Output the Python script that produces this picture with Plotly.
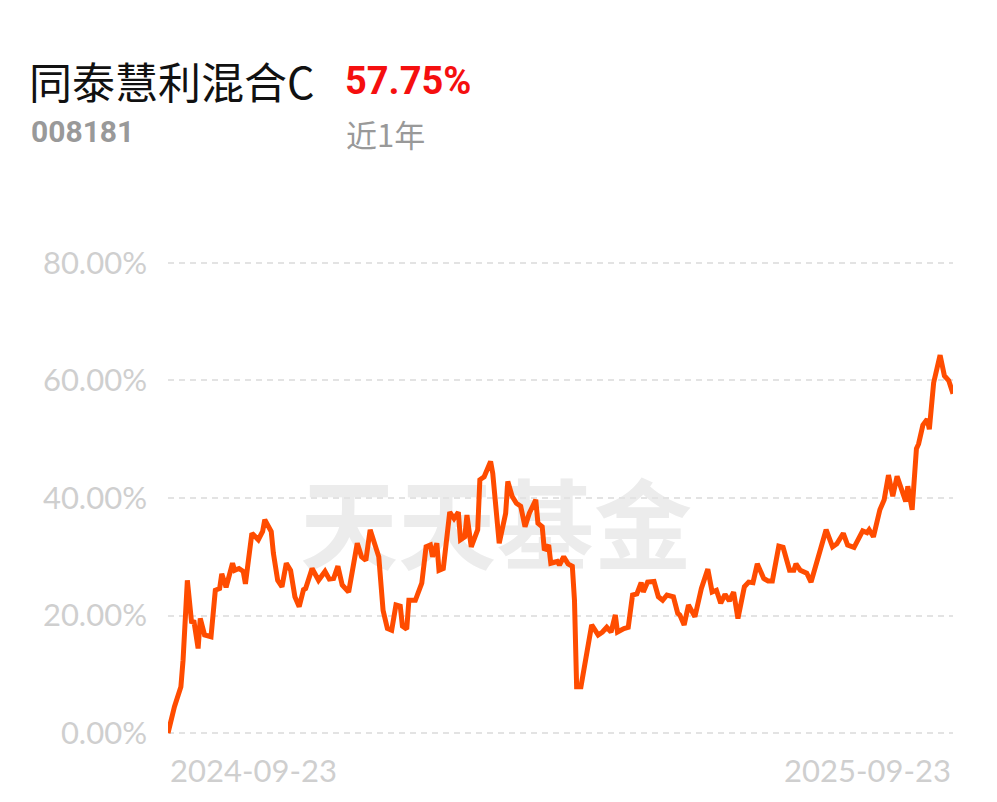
import plotly.graph_objects as go
import pandas as pd

# ---- data ----
fund_name = "同泰慧利混合C"
fund_code = "008181"
period_label = "近1年"
period_return = "57.75%"
start_date = "2024-09-23"
x_tick_labels = ["2024-09-23", "2025-09-23"]
y_tick_values = [0, 20, 40, 60, 80]
y_tick_labels = ["0.00%", "20.00%", "40.00%", "60.00%", "80.00%"]

day_offsets = [
    0, 2, 3, 6, 7, 9, 11, 12, 14, 15, 17, 20, 22, 24, 25, 27, 30, 31, 33, 35,
    36, 39, 42, 44, 45, 48, 49, 51, 53, 55, 57, 59, 61, 63, 64, 67, 70, 73, 75, 77,
    79, 81, 84, 88, 90, 92, 94, 98, 100, 102, 104, 106, 108, 109, 111, 112, 115, 118, 120, 122,
    123, 125, 126, 128, 131, 133, 135, 136, 138, 139, 141, 144, 145, 147, 150, 151, 153, 154, 157, 158,
    160, 162, 164, 166, 168, 171, 172, 174, 175, 177, 178, 181, 182, 184, 186, 188, 189, 190, 192, 195,
    197, 200, 202, 204, 206, 208, 209, 212, 214, 216, 218, 220, 221, 223, 226, 228, 230, 232, 235, 237,
    238, 240, 242, 245, 248, 251, 253, 255, 257, 259, 261, 263, 265, 268, 270, 272, 274, 277, 279, 281,
    284, 286, 289, 291, 292, 294, 297, 299, 301, 304, 306, 309, 311, 314, 316, 319, 323, 325, 326, 328,
    331, 333, 335, 337, 339, 343, 344, 346, 348, 349, 351, 353, 354, 356, 357, 359, 361, 363, 365,
]
returns_pct = [
    0.0, 3.4, 4.5, 7.9, 12.4, 26.0, 18.7, 19.2, 14.4, 19.5, 16.7, 16.4, 24.3, 24.6, 27.1, 24.8, 28.9, 27.7, 28.0, 27.5,
    25.4, 34.0, 32.9, 34.3, 36.3, 34.3, 30.6, 26.0, 24.9, 28.9, 27.7, 23.2, 21.5, 24.4, 24.6, 28.0, 26.0, 27.5, 26.2, 26.3,
    28.4, 25.2, 24.0, 32.3, 30.0, 29.4, 34.6, 30.0, 20.9, 17.8, 17.5, 21.8, 21.6, 18.2, 17.7, 22.6, 22.6, 25.5, 31.7, 32.0,
    30.0, 32.3, 27.7, 28.0, 37.6, 36.5, 37.6, 32.9, 33.4, 37.1, 31.7, 34.6, 43.1, 43.6, 46.2, 44.2, 35.1, 32.3, 37.4, 42.8,
    40.3, 39.1, 38.6, 35.1, 37.4, 39.7, 35.7, 35.1, 31.1, 32.0, 28.9, 29.2, 28.6, 30.0, 28.8, 28.4, 22.6, 7.9, 7.9, 13.6,
    18.4, 16.7, 17.2, 18.0, 17.2, 20.1, 17.2, 17.8, 18.0, 23.5, 23.7, 25.6, 24.0, 25.7, 25.8, 23.2, 22.6, 23.5, 23.2, 20.4,
    20.1, 18.4, 21.8, 19.8, 24.6, 27.9, 24.0, 24.3, 22.1, 23.6, 22.5, 24.0, 19.5, 24.9, 25.7, 25.6, 28.8, 26.3, 25.9, 25.9,
    31.8, 31.6, 27.7, 27.7, 28.8, 27.7, 27.2, 25.7, 28.3, 31.7, 34.6, 31.7, 32.2, 34.0, 32.0, 31.6, 34.4, 34.1, 34.6, 33.4,
    38.0, 39.7, 43.9, 40.3, 43.7, 39.4, 42.0, 38.0, 48.4, 49.2, 52.4, 53.4, 51.7, 59.6, 61.5, 64.3, 60.8, 60.0, 57.75,
]

dates = pd.Timestamp(start_date) + pd.to_timedelta(day_offsets, unit="D")

# ---- layout geometry (pixels) ----
W, H = 997, 802
ML, MR, MT, MB = 168, 44, 257, 63
PW, PH = W - ML - MR, H - MT - MB


def px_x(px):
    return (px - ML) / PW


def px_y(py):
    return (H - MB - py) / PH


LINE_COLOR = "#ff4c00"
AXIS_TEXT = "#cfcfcf"
AXIS_FONT = "Lato, Roboto, sans-serif"

fig = go.Figure()
fig.add_trace(go.Scatter(
    x=dates, y=returns_pct, mode="lines",
    line=dict(color=LINE_COLOR, width=5),
    hoverinfo="skip", showlegend=False,
))

fig.update_layout(
    width=W, height=H,
    margin=dict(l=ML, r=MR, t=MT, b=MB, pad=0),
    paper_bgcolor="white", plot_bgcolor="white",
    showlegend=False,
    xaxis=dict(
        range=[dates[0], dates[-1]],
        showgrid=False, zeroline=False, showline=False,
        showticklabels=False, ticks="",
    ),
    yaxis=dict(
        range=[-1, 81],
        tickmode="array", tickvals=y_tick_values, ticktext=y_tick_labels,
        showgrid=True, gridcolor="#e3e3e3", gridwidth=2, griddash="6px,5px",
        zeroline=False, showline=False, ticks="",
        ticklabelstandoff=20,
        tickfont=dict(family=AXIS_FONT, size=31, color=AXIS_TEXT),
    ),
)

# watermark below the line
fig.add_shape(
    type="rect", xref="paper", yref="paper",
    x0=px_x(300), x1=px_x(692), y0=px_y(585), y1=px_y(485),
    line=dict(width=0), fillcolor="rgba(0,0,0,0)", layer="below",
    label=dict(text="天天基金",
               font=dict(family="Noto Sans CJK SC", size=98, color="#ececec", weight="bold"),
               textposition="middle center"),
)

# header texts
fig.add_annotation(text=fund_name, xref="paper", yref="paper",
                   x=px_x(27), y=px_y(80), xanchor="left", yanchor="middle", showarrow=False,
                   font=dict(family="Noto Sans CJK SC", size=43, color="#111111"))
fig.add_annotation(text=f"<b>{period_return}</b>", xref="paper", yref="paper",
                   x=px_x(343), y=px_y(81), xanchor="left", yanchor="middle", showarrow=False,
                   font=dict(family="Roboto, sans-serif", size=38, color="#f50f0f"))
fig.add_annotation(text=f"<b>{fund_code}</b>", xref="paper", yref="paper",
                   x=px_x(29), y=px_y(131), xanchor="left", yanchor="middle", showarrow=False,
                   font=dict(family="Roboto, sans-serif", size=30, color="#999999"))
fig.add_annotation(text=period_label, xref="paper", yref="paper",
                   x=px_x(344), y=px_y(133), xanchor="left", yanchor="middle", showarrow=False,
                   font=dict(family="Noto Sans CJK SC", size=31, color="#999999"))

# x-axis end labels
fig.add_annotation(text=x_tick_labels[0], x=pd.Timestamp(x_tick_labels[0]), xref="x",
                   yref="paper", y=px_y(770), xanchor="left", yanchor="middle", showarrow=False,
                   font=dict(family=AXIS_FONT, size=31, color=AXIS_TEXT))
fig.add_annotation(text=x_tick_labels[1], x=pd.Timestamp(x_tick_labels[1]), xref="x",
                   yref="paper", y=px_y(770), xanchor="right", yanchor="middle", showarrow=False,
                   font=dict(family=AXIS_FONT, size=31, color=AXIS_TEXT))

fig.write_html("out.html", config={"displayModeBar": False},
               post_script="document.body.style.margin='0';document.body.style.overflow='hidden';")
